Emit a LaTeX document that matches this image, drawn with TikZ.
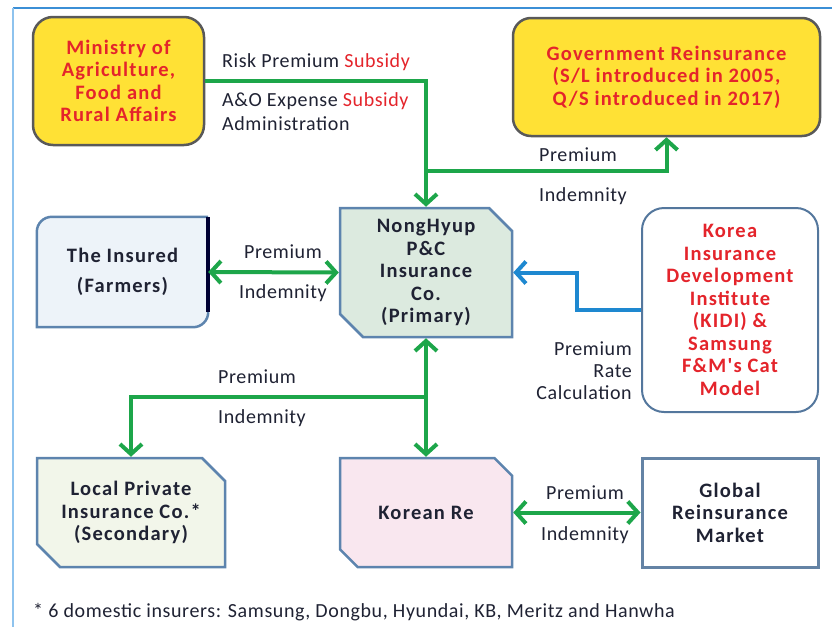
\documentclass[tikz,border=0pt]{standalone}
\usepackage{fontspec}
\setmainfont{Carlito}
\newfontfamily\boxfont[LetterSpace=6]{Carlito}
\newfontfamily\labfont[LetterSpace=3]{Carlito}
\usetikzlibrary{arrows.meta,shapes.misc,calc}
\definecolor{gr}{HTML}{1DA64A}
\definecolor{bl}{HTML}{1E88D0}
\definecolor{rd}{HTML}{E4242B}
\definecolor{tx}{HTML}{1F2233}
\definecolor{yel}{HTML}{FFE135}
\definecolor{bord}{HTML}{5D84AE}
\definecolor{frametop}{HTML}{3B8FD6}
\definecolor{frameleft}{HTML}{8EC3EE}
\definecolor{insfill}{HTML}{EDF3F9}
\definecolor{nhfill}{HTML}{DCEADF}
\definecolor{locfill}{HTML}{F2F6EA}
\definecolor{krefill}{HTML}{F9E7EF}
\begin{document}
\begin{tikzpicture}[x=1pt,y=-1pt,
  boxtext/.style={align=center, inner sep=0pt, font=\boxfont\bfseries\fontsize{20.5}{22.5}\selectfont},
  yelbox/.style={boxtext, rectangle, rounded corners=20pt, fill=yel, draw=black!65, line width=2.5pt, text=rd},
  chbox/.style={boxtext, chamfered rectangle, chamfered rectangle corners={north east,south west},
     chamfered rectangle xsep=12pt, chamfered rectangle ysep=11pt, draw=bord, line width=2.5pt, text=tx},
  lab/.style={inner sep=0pt, text=tx, font=\labfont\fontsize{20}{22}\selectfont},
  garrow/.style={draw=gr, line width=4pt, -{Straight Barb[length=10pt,width=22pt]}},
  gdarrow/.style={draw=gr, line width=4pt, {Straight Barb[length=10pt,width=22pt]}-{Straight Barb[length=10pt,width=22pt]}},
  barrow/.style={draw=bl, line width=4pt, -{Straight Barb[length=10pt,width=22pt]}}
]
\useasboundingbox (0,0) rectangle (832,627);
% frame
\coordinate (ftl) at (13,8);
\coordinate (ftr) at (832,8);
\coordinate (fbl) at (13,627);
\draw[frametop, line width=1.5pt] (ftl) -- (ftr);
\draw[frameleft, line width=2pt] (ftl) -- (fbl);

% boxes
\node[yelbox, minimum width=171pt, minimum height=128pt] (min) at (118.5,81)
  {Ministry of\\Agriculture,\\Food and\\Rural Affairs};
\node[yelbox, rounded corners=18pt, minimum width=307pt, minimum height=118pt] (gov) at (666.5,77)
  {Government Reinsurance\\(S/L introduced in 2005,\\Q/S introduced in 2017)};

\node[boxtext, text=tx, minimum width=171pt, minimum height=110pt] (ins) at (122.5,272)
  {\phantom{The Insured}};
\fill[insfill]
  ($(ins.south west)$) -- ($(ins.north west)+(0,15)$)
  .. controls ($(ins.north west)+(0,6.7)$) and ($(ins.north west)+(6.7,0)$) .. ($(ins.north west)+(15,0)$)
  -- (ins.north east) -- ($(ins.south east)+(0,-15)$)
  .. controls ($(ins.south east)+(0,-6.7)$) and ($(ins.south east)+(-6.7,0)$) .. ($(ins.south east)+(-15,0)$)
  -- cycle;
\draw[bord, line width=2.5pt]
  (ins.north east) -- ($(ins.north west)+(15,0)$)
  .. controls ($(ins.north west)+(6.7,0)$) and ($(ins.north west)+(0,6.7)$) .. ($(ins.north west)+(0,15)$)
  -- (ins.south west) -- ($(ins.south east)+(-15,0)$)
  .. controls ($(ins.south east)+(-6.7,0)$) and ($(ins.south east)+(0,-6.7)$) .. ($(ins.south east)+(0,-15)$);
\draw[black!80!blue, line width=3.5pt] (ins.north east) -- ($(ins.south east)+(0,-15)$);
\node[boxtext, text=tx] (instext) at (ins.center)
  {The Insured\\[7pt](Farmers)};

\node[chbox, fill=nhfill, minimum width=172pt, minimum height=129pt] (nh) at (426,272.5)
  {NongHyup\\P\&C\\Insurance\\Co.\\(Primary)};
\node[boxtext, rectangle, rounded corners=22pt, fill=white, draw=bord!90!black, line width=2pt, text=rd,
  minimum width=176pt, minimum height=204pt] (kidi) at (730,310)
  {Korea\\Insurance\\Development\\Institute\\(KIDI) \&\\Samsung\\F\&M's Cat\\Model};
\node[chbox, fill=locfill, minimum width=188pt, minimum height=109pt] (loc) at (131,512.5)
  {Local Private\\Insurance Co.*\\(Secondary)};
\node[chbox, fill=krefill, minimum width=172pt, minimum height=109pt] (kre) at (426,512.5)
  {Korean Re};
\node[boxtext, rectangle, fill=white, draw=bord!80!gray, line width=3pt, text=tx,
  minimum width=176pt, minimum height=109pt] (glob) at (730,512.5)
  {Global\\Reinsurance\\Market};

% connectors
\coordinate (b1) at ($(nh.north)+(0,-36)$);
\draw[garrow] (min.east) -- (min.east -| nh.north) -- (nh.north);
\draw[garrow] (b1) -| (gov.south);
\draw[gdarrow] (ins.east) -- (nh.west);
\coordinate (k1) at ($(kidi.west)+(-64,0)$);
\draw[barrow] (kidi.west) -- (k1) |- (nh.east);
\draw[gdarrow] (nh.south) -- (kre.north);
\coordinate (b2) at ($(kre.north)+(0,-60)$);
\draw[garrow] (b2) -| (loc.north);
\draw[gdarrow] (kre.east) -- (glob.west);

% labels
\node[lab, anchor=west] (l1) at (222,62) {Risk Premium \textcolor{rd}{Subsidy}};
\node[lab, anchor=west] (l2) at (222,101) {A\&O Expense \textcolor{rd}{Subsidy}};
\node[lab, anchor=west] (l3) at (222,124) {Administration};
\node[lab, anchor=west] (l4) at (539,155) {Premium};
\node[lab, anchor=west] (l5) at (539,196) {Indemnity};
\node[lab] (l6) at (283,252) {Premium};
\node[lab] (l7) at (283,293) {Indemnity};
\node[lab, anchor=east, align=right] (l8) at (632,371) {Premium\\Rate\\Calculation};
\node[lab, anchor=west] (l9) at (218,377) {Premium};
\node[lab, anchor=west] (l10) at (218,418) {Indemnity};
\node[lab] (l11) at (585,493) {Premium};
\node[lab] (l12) at (585,535) {Indemnity};
\node[lab, anchor=west] (fn) at (33,612) {* 6 domestic insurers: Samsung, Dongbu, Hyundai, KB, Meritz and Hanwha};
\end{tikzpicture}
\end{document}
